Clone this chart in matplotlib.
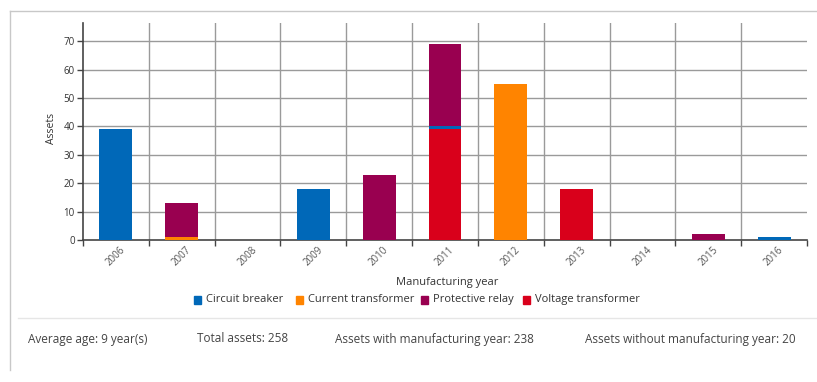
import matplotlib
matplotlib.use("Agg")
import matplotlib.pyplot as plt
import numpy as np
from matplotlib.patches import Rectangle
from matplotlib.lines import Line2D

plt.rcParams['font.family'] = ['Open Sans', 'DejaVu Sans']

years = ['2006', '2007', '2008', '2009', '2010', '2011', '2012', '2013', '2014', '2015', '2016']
circuit_breaker = [39, 0, 0, 18, 0, 1, 0, 0, 0, 0, 1]
current_transformer = [0, 1, 0, 0, 0, 0, 55, 0, 0, 0, 0]
protective_relay = [0, 12, 0, 0, 23, 29, 0, 0, 0, 2, 0]
voltage_transformer = [0, 0, 0, 0, 0, 39, 0, 18, 0, 0, 0]
yticks = [0, 10, 20, 30, 40, 50, 60, 70]
series_names = ['Circuit breaker', 'Current transformer', 'Protective relay', 'Voltage transformer']
colors = ['#0068b8', '#ff8400', '#990050', '#d9001b']
stats = ['Average age: 9 year(s)', 'Total assets: 258',
         'Assets with manufacturing year: 238', 'Assets without manufacturing year: 20']

W, H = 817, 382
fig = plt.figure(figsize=(W / 100, H / 100), dpi=100)

# outer frame
fig.add_artist(Line2D([10 / W, 1], [1 - 11 / H, 1 - 11 / H], color='#c8c8c8', lw=1, transform=fig.transFigure))
fig.add_artist(Line2D([10 / W, 10 / W], [1 - 11 / H, 1 - 370 / H], color='#c8c8c8', lw=1, transform=fig.transFigure))
fig.add_artist(Line2D([18 / W, 1], [1 - 318 / H, 1 - 318 / H], color='#e6e6e6', lw=1, transform=fig.transFigure))

ax = fig.add_axes([83 / W, 1 - 240 / H, (807 - 83) / W, (240 - 23) / H])
x = np.arange(len(years))
cb = np.array(circuit_breaker)
ct = np.array(current_transformer)
pr = np.array(protective_relay)
vt = np.array(voltage_transformer)

# stack order as seen: voltage / current transformer at the bottom, circuit breaker, protective relay on top
bw = 0.5
ax.bar(x, vt, bw, bottom=0, color=colors[3], zorder=3)
b1 = vt
ax.bar(x, ct, bw, bottom=b1, color=colors[1], zorder=3)
b2 = b1 + ct
ax.bar(x, cb, bw, bottom=b2, color=colors[0], zorder=3)
b3 = b2 + cb
ax.bar(x, pr, bw, bottom=b3, color=colors[2], zorder=3)

ax.set_xlim(-0.5, len(years) - 0.5)
ax.set_ylim(0, 76.4)
ax.set_yticks(yticks)
ax.set_yticklabels([str(v) for v in yticks], fontsize=7, color='#333333')
ax.set_xticks(x)
ax.set_xticklabels(years, rotation=45, fontsize=7, color='#555555', ha='center', va='top')
ax.tick_params(axis='x', length=0, pad=3)
ax.tick_params(axis='y', length=4, color='#444444', width=1, pad=2)
ax.set_xticks(np.arange(-0.5, len(years)), minor=True)
ax.tick_params(axis='x', which='minor', length=4, color='#444444', width=1)

for yv in yticks[1:]:
    ax.axhline(yv, color='#9a9a9a', lw=1, zorder=1)
for xv in np.arange(0.5, len(years) - 0.5):
    ax.axvline(xv, color='#9a9a9a', lw=1, zorder=1)

for s in ['top', 'right']:
    ax.spines[s].set_visible(False)
ax.spines['left'].set_color('#444444')
ax.spines['bottom'].set_color('#444444')
ax.spines['left'].set_linewidth(1.2)
ax.spines['bottom'].set_linewidth(1.2)

fig.text(52 / W, 1 - 128 / H, 'Assets', rotation=90, ha='center', va='center', fontsize=7.5, color='#333333')
fig.text(447 / W, 1 - 283 / H, 'Manufacturing year', ha='center', va='center', fontsize=8, color='#333333')

leg_x = [194, 296, 421, 523]
for lx, name, c in zip(leg_x, series_names, colors):
    fig.add_artist(Rectangle((lx / W, 1 - 304 / H), 7 / W, 8 / H, color=c, transform=fig.transFigure))
    fig.text((lx + 12) / W, 1 - 299.5 / H, name, ha='left', va='center', fontsize=8, color='#333333')

stat_x = [28, 197, 335, 585]
for sx, s in zip(stat_x, stats):
    fig.text(sx / W, 1 - 339 / H, s, ha='left', va='center', fontsize=8.5, color='#444444')

fig.savefig('out.png', dpi=100)
